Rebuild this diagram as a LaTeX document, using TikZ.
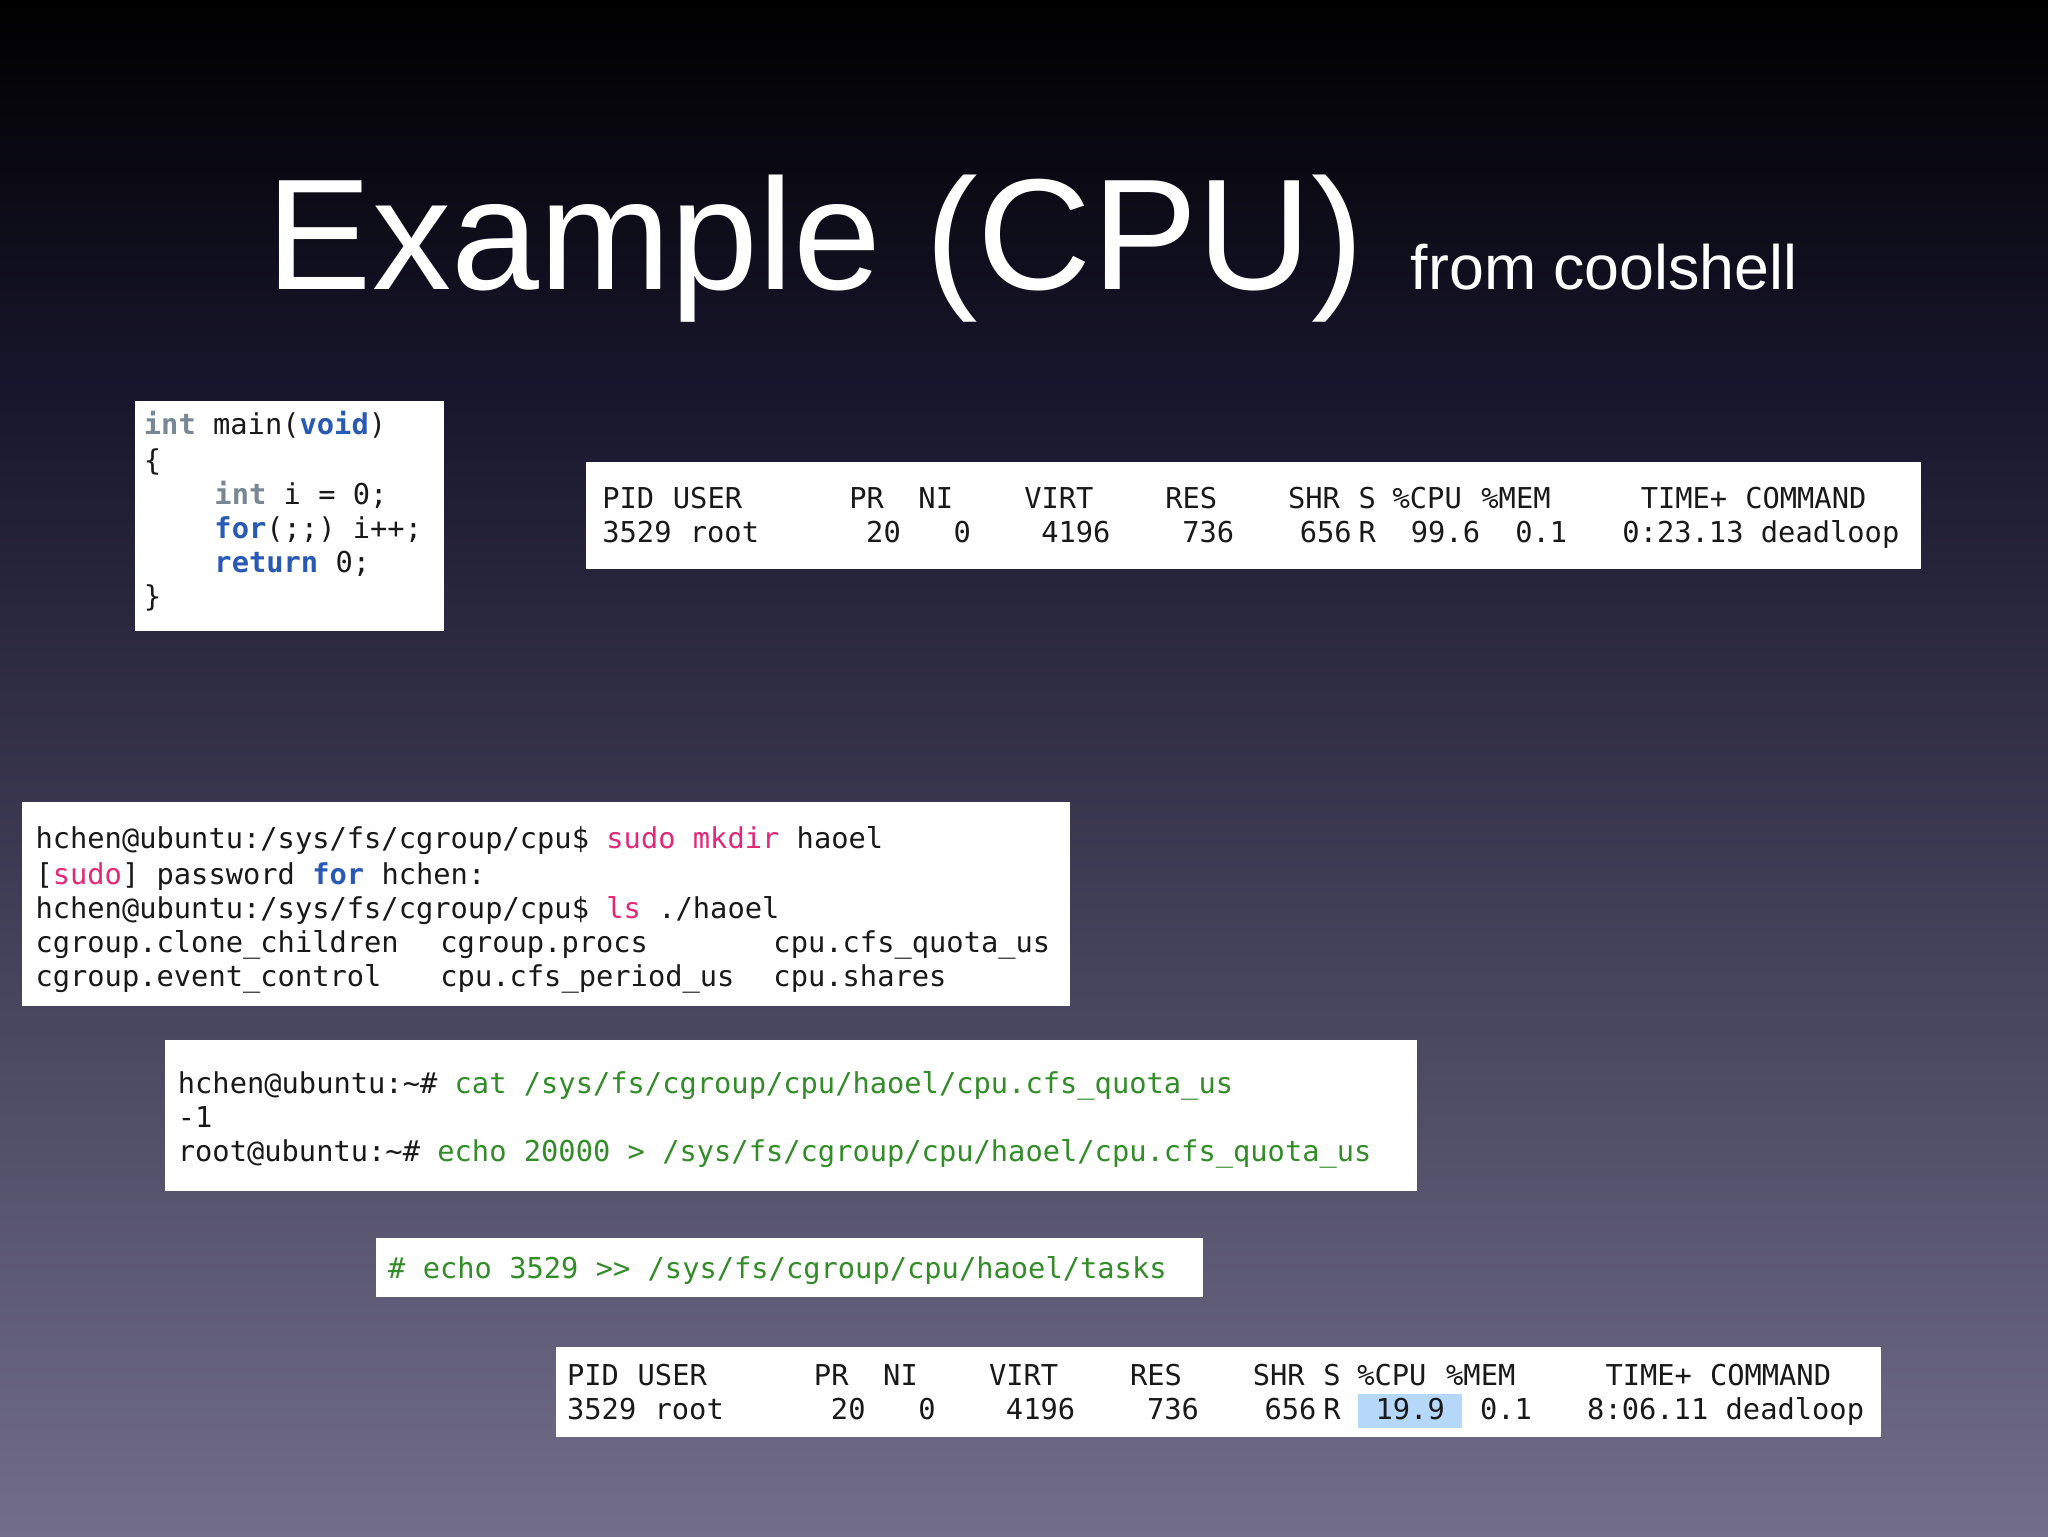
\documentclass[tikz,border=0pt]{standalone}
\usepackage{fontspec}
\setmainfont{Liberation Sans}
\newfontfamily\mono{DejaVu Sans Mono}
\definecolor{bgtop}{RGB}{0,0,0}
\definecolor{bgmid}{RGB}{24,22,44}
\definecolor{bgbot}{RGB}{114,110,138}
\definecolor{kwpink}{RGB}{226,40,120}
\definecolor{kwblue}{RGB}{40,90,180}
\definecolor{kwgray}{RGB}{120,135,150}
\definecolor{kwgreen}{RGB}{50,140,40}
\definecolor{hl}{RGB}{180,215,250}
\definecolor{txt}{RGB}{25,25,25}
\tikzset{
  panel/.style={fill=white,draw=none},
  t/.style={anchor=base west,inner sep=0pt,font=\mono\fontsize{22}{22}\selectfont,text=txt},
}
\newcommand{\tk}[3]{\node[t] at (#1,#2) {#3};}
\begin{document}
\begin{tikzpicture}[x=1pt,y=-1pt]
\useasboundingbox (0,0) rectangle (1568,1176);
\shade[top color=bgtop,bottom color=bgmid] (0,0) rectangle (1568,301);
\shade[top color=bgmid,bottom color=bgbot] (0,300) rectangle (1568,1176);
% title
\node[anchor=base west,inner sep=0pt,text=white,font=\fontsize{121}{121}\selectfont] (title) at (204,222) {Example (CPU)};
\node[anchor=base west,inner sep=0pt,text=white,font=\fontsize{48}{48}\selectfont] (sub) at (1080,222) {from coolshell};
% box1 code
\fill[panel] (103,307) rectangle (340,483);
\tk{110}{333}{\textcolor{kwgray}{\bfseries int} main(\textcolor{kwblue}{\bfseries void})}
\tk{110}{360}{\{}
\tk{164}{386}{\textcolor{kwgray}{\bfseries int} i = 0;}
\tk{164}{412}{\textcolor{kwblue}{\bfseries for}(;;) i++;}
\tk{164}{438}{\textcolor{kwblue}{\bfseries return} 0;}
\tk{110}{464}{\}}
% box2 top
\fill[panel] (449,354) rectangle (1471,436);
\foreach \x/\s in {461/PID,515/USER,650/PR,703/NI,784/VIRT,892/RES,986/SHR,1040/S,1066/\%CPU,1134/\%MEM,1256/TIME+,1336/COMMAND}{\tk{\x}{389}{\s}}
\foreach \x/\s in {461/3529,528/root,663/20,730/0,797/4196,905/736,995/656,1040/R,1080/99.6,1160/0.1,1242/0:23.13,1348/deadloop}{\tk{\x}{415}{\s}}
% box3
\fill[panel] (17,614) rectangle (819,770);
\tk{27}{650}{hchen@ubuntu:/sys/fs/cgroup/cpu\$ \textcolor{kwpink}{sudo mkdir} haoel}
\tk{27}{677}{[\textcolor{kwpink}{sudo}] password \textcolor{kwblue}{\bfseries for} hchen:}
\tk{27}{703}{hchen@ubuntu:/sys/fs/cgroup/cpu\$ \textcolor{kwpink}{ls} ./haoel}
\tk{27}{729}{cgroup.clone\_children}\tk{337}{729}{cgroup.procs}\tk{592}{729}{cpu.cfs\_quota\_us}
\tk{27}{755}{cgroup.event\_control}\tk{337}{755}{cpu.cfs\_period\_us}\tk{592}{755}{cpu.shares}
% box4
\fill[panel] (126,796) rectangle (1085,912);
\tk{136}{837}{hchen@ubuntu:\textasciitilde\# \textcolor{kwgreen}{cat /sys/fs/cgroup/cpu/haoel/cpu.cfs\_quota\_us}}
\tk{136}{863}{-1}
\tk{136}{889}{root@ubuntu:\textasciitilde\# \textcolor{kwgreen}{echo 20000 > /sys/fs/cgroup/cpu/haoel/cpu.cfs\_quota\_us}}
% box5
\fill[panel] (288,948) rectangle (921,993);
\tk{297}{979}{\textcolor{kwgreen}{\# echo 3529 >> /sys/fs/cgroup/cpu/haoel/tasks}}
% box6
\fill[panel] (426,1031) rectangle (1440,1100);
\fill[hl] (1040,1067) rectangle (1119,1093);
\foreach \x/\s in {461/PID,515/USER,650/PR,703/NI,784/VIRT,892/RES,986/SHR,1040/S,1066/\%CPU,1134/\%MEM,1256/TIME+,1336/COMMAND}{\tk{\x-27}{1061}{\s}}
\foreach \x/\s in {461/3529,528/root,663/20,730/0,797/4196,905/736,995/656,1040/R,1080/19.9,1160/0.1,1242/8:06.11,1348/deadloop}{\tk{\x-27}{1087}{\s}}
\end{tikzpicture}
\end{document}
